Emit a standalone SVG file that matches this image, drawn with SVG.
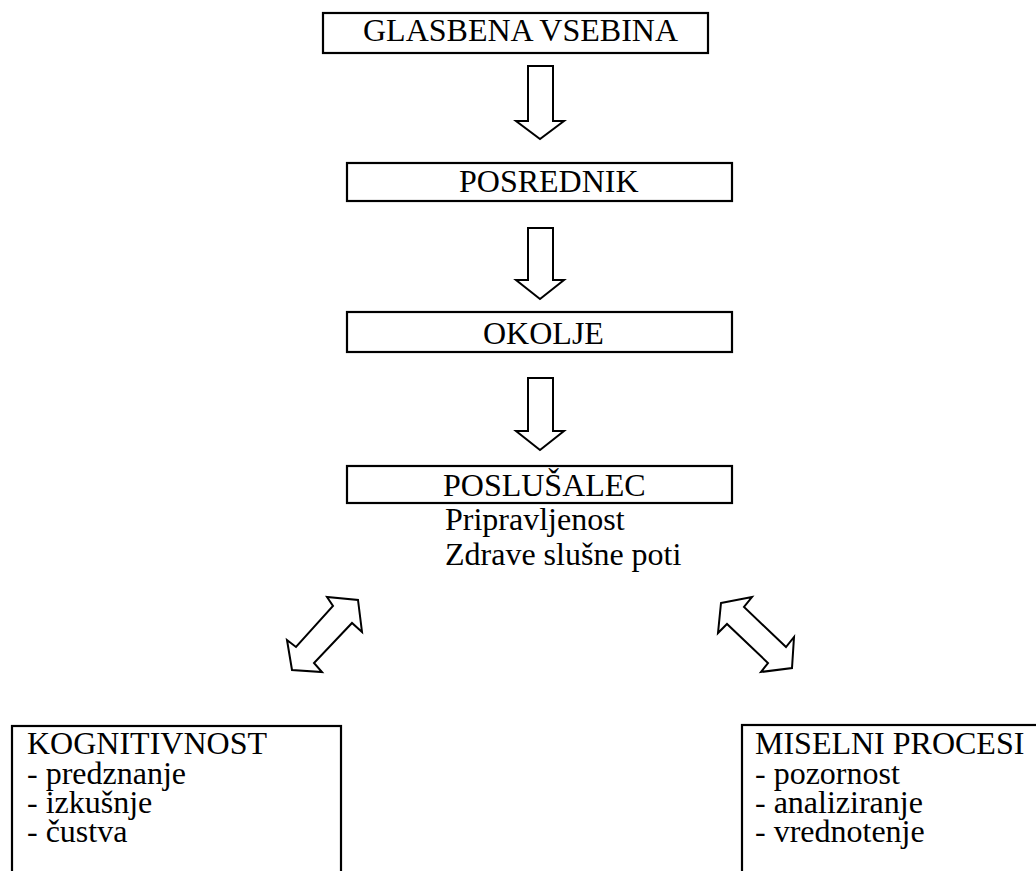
<svg xmlns="http://www.w3.org/2000/svg" width="1036" height="871" viewBox="0 0 1036 871">
<style>
.box{fill:#fff;stroke:#000;stroke-width:2.2}
.arr{fill:#fff;stroke:#000;stroke-width:2;stroke-linejoin:miter}
text{font-family:"Liberation Serif","Times New Roman",serif;font-size:32px;fill:#000}
</style>
<rect width="1036" height="871" fill="#fff"/>
<g id="connectors">
<polygon class="arr" points="528,66 553,66 553,121 564,121 540,139 516,121 528,121"/>
<polygon class="arr" points="528,228 553,228 553,280 564,280 540,299 516,280 528,280"/>
<polygon class="arr" points="528,378 553,378 553,431 564,431 540,450 516,431 528,431"/>
<polygon class="arr" points="358,600 362,632 352,623 314,663 322,672 292,670 287,640 296,647 333,606 327,597"/>
<polygon class="arr" points="721,603 752,597 744,607 786,647 794,637 792,668 761,672 768,663 727,624 718,633"/>
</g>
<g id="glasbena">
<rect class="box" x="323" y="13" width="385" height="40"/>
<text x="363" y="41">GLASBENA VSEBINA</text>
</g>
<g id="posrednik">
<rect class="box" x="347" y="163" width="385" height="38"/>
<text x="459" y="192">POSREDNIK</text>
</g>
<g id="okolje">
<rect class="box" x="347" y="312" width="385" height="40"/>
<text x="483" y="344">OKOLJE</text>
</g>
<g id="poslusalec">
<rect class="box" x="347" y="466" width="385" height="37"/>
<text x="443" y="496">POSLUŠALEC</text>
<text x="445" y="530">Pripravljenost</text>
<text x="445" y="565">Zdrave slušne poti</text>
</g>
<g id="kognitivnost">
<rect class="box" x="12" y="726" width="329" height="160"/>
<text x="27" y="754">KOGNITIVNOST</text>
<text x="27" y="784">- predznanje</text>
<text x="27" y="813">- izkušnje</text>
<text x="27" y="842">- čustva</text>
</g>
<g id="miselni">
<rect class="box" x="742" y="725" width="310" height="160"/>
<text x="755" y="754">MISELNI PROCESI</text>
<text x="755" y="784">- pozornost</text>
<text x="755" y="813">- analiziranje</text>
<text x="755" y="842">- vrednotenje</text>
</g>
</svg>
